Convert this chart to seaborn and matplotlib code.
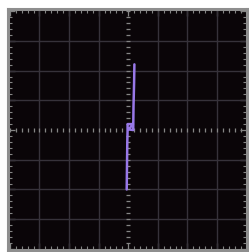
import numpy as np
import pandas as pd
import matplotlib
matplotlib.use("Agg")
import matplotlib.pyplot as plt
import seaborn as sns

# scope trace (x/y in divisions, screen centre = 0,0)
trace_x = [-0.05, -0.04, -0.03, -0.02, -0.02, 0.16, 0.02, 0.17, 0.18, 0.20, 0.21]
trace_y = [-2.00, -1.20, -0.40, 0.00, 0.20, 0.20, 0.02, 0.00, 0.80, 1.60, 2.21]
grid_pos = [-3, -2, -1, 1, 2, 3]

sns.set_style("dark")
bg = "#0a0508"
frame = "#8e8e8e"
tick_col = "#858585"
grid_col = "#36323a"
trace_col = "#9878e8"

fig = plt.figure(figsize=(2.49, 2.52), dpi=100, facecolor="white")
ax = fig.add_axes([7.5 / 249, 2.5 / 252, 239 / 249, 241 / 252])
ax.set_facecolor(bg)

for p in grid_pos:
    ax.axvline(p, color=grid_col, lw=1.0, zorder=1)
    ax.axhline(p, color=grid_col, lw=1.0, zorder=1)

# centre graticule dashes
minor = np.round(np.arange(-4, 4.01, 0.2), 2)
minor = minor[np.abs(minor) > 0.01]
ax.plot(np.zeros_like(minor), minor, ls="none", marker="_", ms=3, mew=0.9, color=tick_col, zorder=2)
ax.plot(minor, np.zeros_like(minor), ls="none", marker="|", ms=3, mew=0.9, color=tick_col, zorder=2)

df = pd.DataFrame({"x": trace_x, "y": trace_y})
sns.lineplot(data=df, x="x", y="y", sort=False, estimator=None, color=trace_col, lw=1.8, ax=ax, zorder=3)

ax.set_xlim(-4.08, 3.97)
ax.set_ylim(-4.02, 4.09)
ax.set_xlabel("")
ax.set_ylabel("")
ax.grid(False)

ax.set_xticks(np.arange(-4, 5, 1))
ax.set_yticks(np.arange(-4, 5, 1))
ax.set_xticks(minor, minor=True)
ax.set_yticks(minor, minor=True)
ax.tick_params(which="both", direction="in", top=True, bottom=True, left=True, right=True,
               labelbottom=False, labelleft=False, color=tick_col)
ax.tick_params(which="minor", length=3.2, width=0.8)
ax.tick_params(which="major", length=5, width=0.9)

for s in ax.spines.values():
    s.set_visible(True)
    s.set_color(frame)
    s.set_linewidth(2.2)

fig.savefig("out.png", dpi=100, facecolor="white")
